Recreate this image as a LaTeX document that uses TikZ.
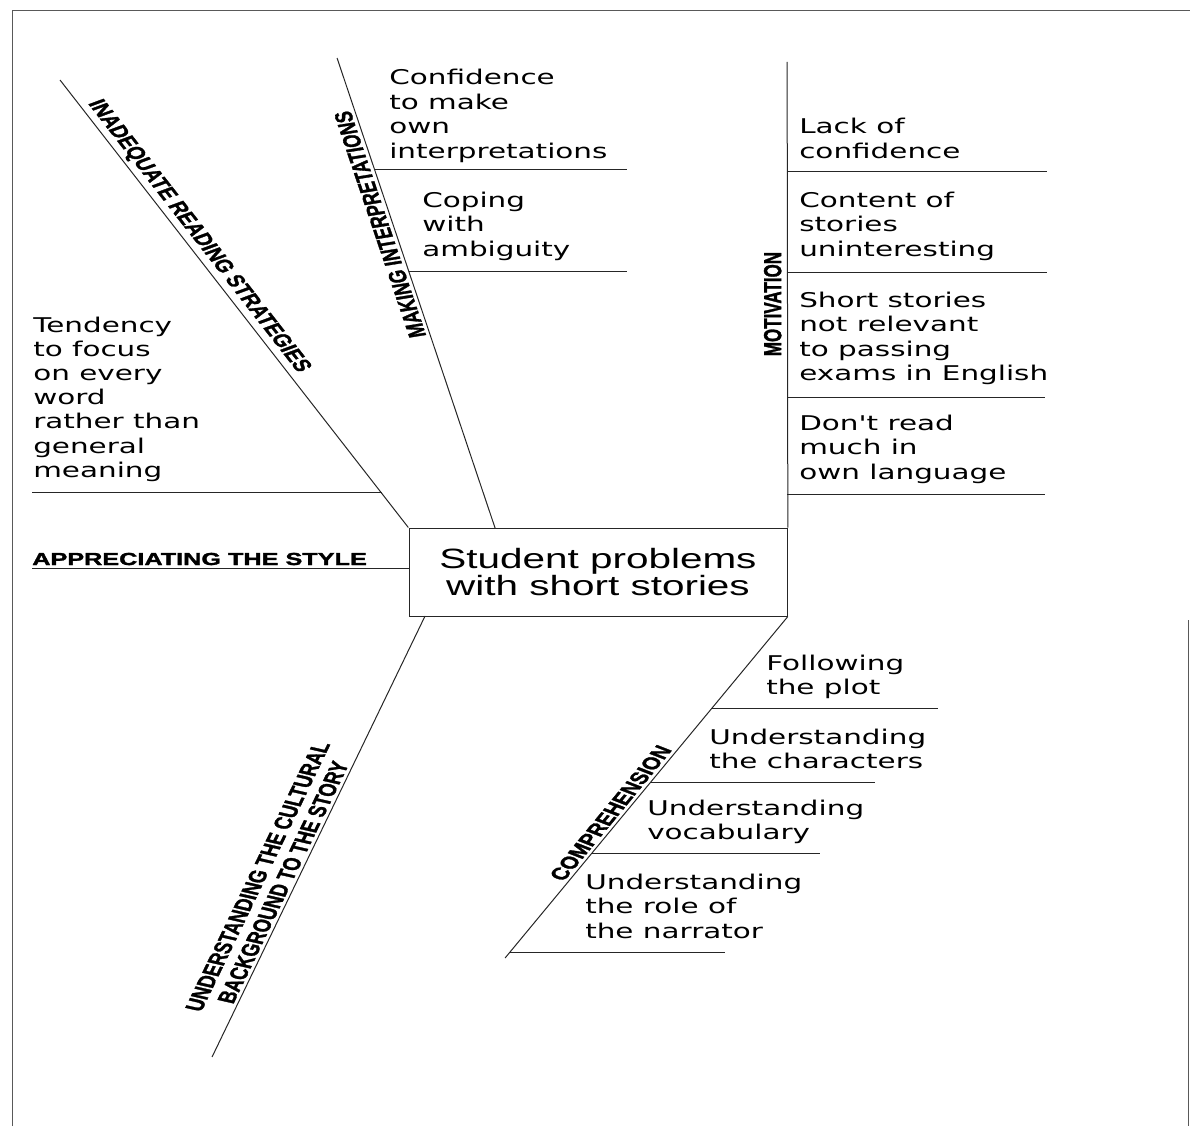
\documentclass[tikz,border=0pt]{standalone}
\usepackage{fontspec}
\newfontfamily\handfont{DejaVu Sans}
\newfontfamily\helvfont{Liberation Sans}
\newfontfamily\labfont[BoldFeatures={FakeBold=1.6}]{Liberation Sans}
\newcommand{\hwtext}[1]{\begin{tabular}[t]{@{}l@{}}#1\end{tabular}}
\begin{document}
\begin{tikzpicture}[x=0.6896552pt, y=-1pt, xscale=1.45,
  every node/.append style={transform shape},
  ln/.style={line width=1pt, black!85},
  frm/.style={line width=0.8pt, black!65},
  hw/.style={font=\handfont\fontsize{20.3}{24.5}\selectfont, anchor=base west, inner sep=0pt},
  lab/.style={font=\labfont\bfseries\fontsize{17}{18.5}\selectfont, inner sep=2.5pt, anchor=south},
]
\useasboundingbox (0,0) rectangle (1190,1126);
% frame
\draw[frm] (12,1126) -- (12,10) -- (1190,10);
\draw[frm] (1188,620) -- (1188,1126);

% central box
\node[draw, line width=1pt, black!85, text=black, minimum width=260.69pt, minimum height=88pt,
      inner sep=0pt, align=center, font=\helvfont\fontsize{27.9}{27}\selectfont]
      (box) at (598,572) {Student problems\\with short stories};

% main bone ends
\coordinate (irsT) at (60,80);
\coordinate (miT) at (337,58);
\coordinate (miB) at (495,528);
\coordinate (motT) at (787,62);
\coordinate (appL) at (32,568);
\coordinate (appR) at (409,568);
\coordinate (culT) at (425,616);
\coordinate (culB) at (212,1057);
\coordinate (comB) at (505,958);

\draw[ln] (irsT) -- (box.north west);
\draw[ln] (miT) -- (miB);
\draw[ln] (motT) -- (box.north east);
\draw[ln] (appL) -- (appR);
\draw[ln] (culT) -- (culB);
\draw[ln] (box.south east) -- (comB);

% category labels
\path (irsT) -- (box.north west) node[lab, pos=0.36, rotate=-61.7] (irsLab) {INADEQUATE READING STRATEGIES};
\path (miT) -- (miB) node[lab, pos=0.35, rotate=103.1] (miLab) {MAKING INTERPRETATIONS};
\path (motT) -- (box.north east) node[lab, pos=0.52, rotate=90, inner sep=4pt] (motLab) {MOTIVATION};
\node[lab, anchor=base west, inner sep=0pt, font=\labfont\bfseries\fontsize{17.4}{18.5}\selectfont] (appLab) at (32,565) {APPRECIATING THE STYLE};
\path (culT) -- (culB) node[lab, pos=0.61, rotate=71.6, align=center] (culLab) {UNDERSTANDING THE CULTURAL\\BACKGROUND TO THE STORY};
\path (box.south east) -- (comB) node[lab, pos=0.588, rotate=60.4] (comLab) {COMPREHENSION};

% branch lines
\coordinate (irs1s) at (381.9,492); \coordinate (irs1e) at (32,492);
\draw[ln] (irs1s) -- (irs1e);
\coordinate (mi1s) at (374.7,170); \coordinate (mi1e) at (627,170);
\coordinate (mi2s) at (408.6,271); \coordinate (mi2e) at (627,271);
\draw[ln] (mi1s) -- (mi1e);
\draw[ln] (mi2s) -- (mi2e);
\coordinate (mo1s) at (787,172); \coordinate (mo1e) at (1047,172);
\coordinate (mo2s) at (787,272); \coordinate (mo2e) at (1047,272);
\coordinate (mo3s) at (787,397); \coordinate (mo3e) at (1045,397);
\coordinate (mo4s) at (787,494); \coordinate (mo4e) at (1045,494);
\draw[ln] (mo1s) -- (mo1e);
\draw[ln] (mo2s) -- (mo2e);
\draw[ln] (mo3s) -- (mo3e);
\draw[ln] (mo4s) -- (mo4e);
\coordinate (co1s) at (711.1,708); \coordinate (co1e) at (938,708);
\coordinate (co2s) at (650.1,782); \coordinate (co2e) at (875,782);
\coordinate (co3s) at (591.6,853); \coordinate (co3e) at (820,853);
\coordinate (co4s) at (509.9,952); \coordinate (co4e) at (725,952);
\draw[ln] (co1s) -- (co1e);
\draw[ln] (co2s) -- (co2e);
\draw[ln] (co3s) -- (co3e);
\draw[ln] (co4s) -- (co4e);

% cause texts
\node[hw] (tConf) at (389,85) {\hwtext{Confidence\\to make\\own\\interpretations}};
\node[hw] (tCope) at (422,207) {\hwtext{Coping\\with\\ambiguity}};
\node[hw] (tLack) at (799,134) {\hwtext{Lack of\\confidence}};
\node[hw] (tCont) at (799,207) {\hwtext{Content of\\stories\\uninteresting}};
\node[hw] (tShort) at (799,307) {\hwtext{Short stories\\not relevant\\to passing\\exams in English}};
\node[hw] (tDont) at (799,430) {\hwtext{Don't read\\much in\\own language}};
\node[hw, font=\handfont\fontsize{20.3}{24.2}\selectfont] (tTend) at (33,332) {\hwtext{Tendency\\to focus\\on every\\word\\rather than\\general\\meaning}};
\node[hw] (tFol) at (766,670) {\hwtext{Following\\the plot}};
\node[hw] (tChar) at (709,744) {\hwtext{Understanding\\the characters}};
\node[hw] (tVoc) at (647,815) {\hwtext{Understanding\\vocabulary}};
\node[hw] (tNarr) at (585,889) {\hwtext{Understanding\\the role of\\the narrator}};
\end{tikzpicture}
\end{document}
